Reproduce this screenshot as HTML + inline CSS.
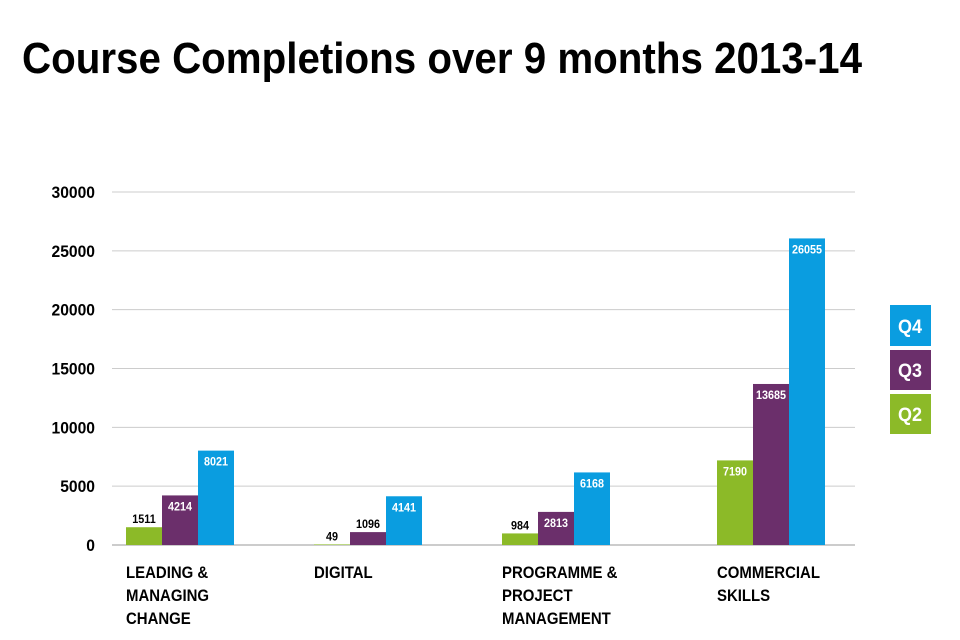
<!DOCTYPE html>
<html><head><meta charset="utf-8"><style>
body{margin:0;background:#fff;}
svg{display:block;}
text{font-family:"Liberation Sans Narrow","Liberation Sans",sans-serif;font-weight:bold;}
</style></head><body>
<svg id="chart" width="960" height="640" xmlns="http://www.w3.org/2000/svg">
<text x="22" y="73" font-size="44" fill="#000" textLength="840" lengthAdjust="spacingAndGlyphs">Course Completions over 9 months 2013-14</text>
<g id="grid"></g><g id="bars"></g><g id="labels"></g>
<g>
<rect x="890" y="305" width="41" height="41" fill="#0a9de0"/>
<text x="910" y="333" font-size="19" fill="#fff" text-anchor="middle" textLength="24" lengthAdjust="spacingAndGlyphs">Q4</text>
<rect x="890" y="350" width="41" height="40" fill="#6b2f6b"/>
<text x="910" y="377" font-size="19" fill="#fff" text-anchor="middle" textLength="24" lengthAdjust="spacingAndGlyphs">Q3</text>
<rect x="890" y="394" width="41" height="40" fill="#8cba28"/>
<text x="910" y="421" font-size="19" fill="#fff" text-anchor="middle" textLength="24" lengthAdjust="spacingAndGlyphs">Q2</text>
</g>
</svg>
<script>
const categories=[["LEADING &","MANAGING","CHANGE"],["DIGITAL"],["PROGRAMME &","PROJECT","MANAGEMENT"],["COMMERCIAL","SKILLS"]];
const q2=[1511,49,984,7190];
const q3=[4214,1096,2813,13685];
const q4=[8021,4141,6168,26055];
const ticks=[0,5000,10000,15000,20000,25000,30000];
const NS="http://www.w3.org/2000/svg";
const y0=545,yTop=192,maxV=30000;
const y=v=>y0-(v/maxV)*(y0-yTop);
const gx=i=>126+i*188+(i===3?27:0);
const bw=36;
function mk(t,a,p,txt){const e=document.createElementNS(NS,t);for(const k in a)e.setAttribute(k,a[k]);if(txt!==undefined)e.textContent=txt;document.getElementById(p).appendChild(e);return e;}
ticks.forEach(t=>{
 const l=mk('line',{x1:112,x2:855,y1:y(t),y2:y(t),stroke:t===0?'#999':'#ccc','stroke-width':1},'grid');
 
 
 const tx=mk('text',{x:0,y:0,'font-size':17,'text-anchor':'end',fill:'#000',transform:'translate(95,'+(y(t)+6)+') scale(0.92,1)'},'grid',String(t));
 
 
});
const series=[[q2,'#8cba28','q2'],[q3,'#6b2f6b','q3'],[q4,'#0a9de0','q4']];
categories.forEach((c,i)=>{
 series.forEach(([arr,col,nm],s)=>{
  const v=arr[i],x=gx(i)+s*bw;
  const r=mk('rect',{x:x,y:y(v),width:bw,height:y0-y(v),fill:col},'bars');
  
  
  const inside=(y0-y(v))>=18;
  const t=mk('text',{x:0,y:0,'font-size':12,'text-anchor':'middle',fill:inside?'#fff':'#000',transform:'translate('+(x+bw/2)+','+(inside?y(v)+15:y(v)-4)+') scale(0.9,1)'},'labels',String(v));
  
  
 });
 c.forEach((ln,j)=>{
  const t=mk('text',{x:0,y:0,'font-size':17,fill:'#000',transform:'translate('+gx(i)+','+(578+j*23)+') scale(0.88,1)'},'labels',ln);
  
  
 });
});
</script>
</body></html>
